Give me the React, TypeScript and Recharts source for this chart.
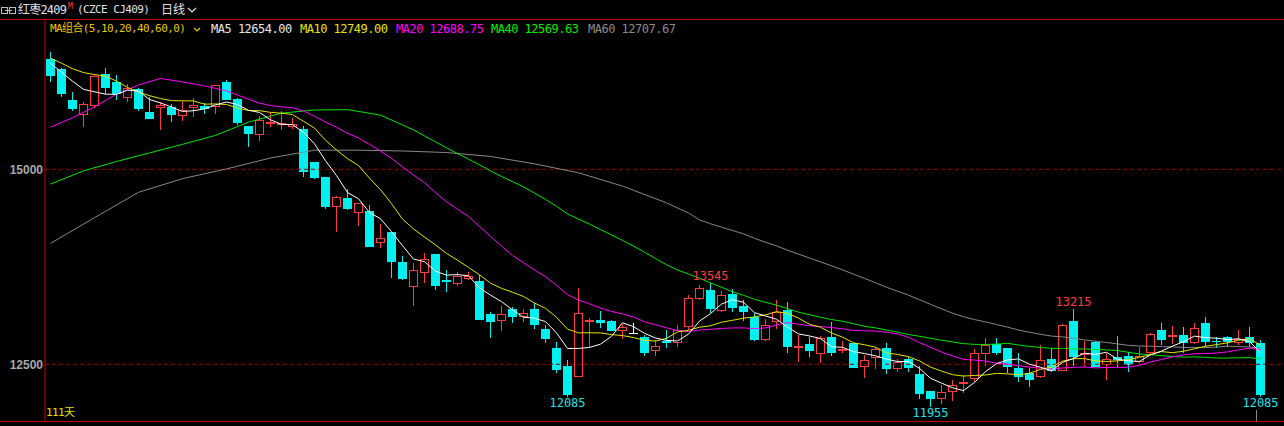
import React from "react";
import {
  ComposedChart, Bar, Line, XAxis, YAxis, ReferenceLine, ReferenceDot,
} from "recharts";

// Daily candles, 111 sessions (index 0 = oldest)
const opens = [
  16415, 16285, 15890, 15700, 15815, 16220, 16115, 15910, 16030, 15735,
  15780, 15800, 15685, 15790, 15810, 15795, 16120, 15900, 15555, 15445,
  15585, 15570, 15545, 15515, 15095, 14900, 14520, 14630, 14435, 14465,
  14050, 14195, 13810, 13495, 13665, 13915, 13580, 13525, 13590, 13570,
  13145, 13060, 13210, 13105, 13210, 12950, 12715, 12480, 12340, 13040,
  13070, 13050, 12925, 12905, 12845, 12675, 12795, 12770, 12980, 13335,
  13450, 13185, 13400, 13245, 13105, 12810, 13045, 13195, 12705, 12760,
  12630, 12845, 12670, 12770, 12460, 12575, 12710, 12445, 12565, 12375,
  12155, 12060, 12140, 12245, 12310, 12630, 12755, 12710, 12450, 12385,
  12335, 12570, 12420, 13055, 12620, 12790, 12490, 12590, 12605, 12535,
  12640, 12940, 12845, 12875, 12770, 13025, 12800, 12845, 12775, 12845,
  12775,
];
const highs = [
  16510, 16300, 15985, 15860, 16210, 16305, 16210, 16090, 16045, 15925,
  15860, 15835, 15880, 15910, 15845, 16080, 16150, 15910, 15560, 15685,
  15720, 15745, 15655, 15555, 15100, 14905, 14660, 14745, 14570, 14540,
  14300, 14200, 13890, 13800, 13925, 13920, 13710, 13680, 13680, 13650,
  13175, 13245, 13240, 13210, 13280, 13005, 12780, 12555, 13475, 13090,
  13185, 13070, 13015, 13025, 12875, 12810, 12940, 13005, 13390, 13515,
  13545, 13435, 13465, 13325, 13155, 13075, 13325, 13305, 12875, 12845,
  12860, 13045, 12800, 12775, 12620, 12725, 12775, 12570, 12595, 12480,
  12160, 12235, 12300, 12360, 12690, 12835, 12835, 12715, 12650, 12450,
  12745, 12705, 13015, 13215, 12805, 12795, 12640, 12860, 12660, 12725,
  12895, 13025, 12990, 12975, 13025, 13105, 12845, 12865, 12940, 12975,
  12810,
];
const lows = [
  16125, 15930, 15750, 15545, 15790, 15970, 15890, 15860, 15750, 15645,
  15510, 15610, 15625, 15675, 15715, 15715, 15885, 15565, 15290, 15365,
  15545, 15510, 15520, 14905, 14875, 14495, 14200, 14480, 14275, 14000,
  13995, 13610, 13580, 13250, 13545, 13455, 13430, 13505, 13580, 13065,
  12840, 12930, 13035, 13040, 12950, 12770, 12390, 12085, 12335, 12720,
  12970, 12925, 12820, 12885, 12610, 12610, 12705, 12720, 12940, 13330,
  13160, 13175, 13175, 13060, 12800, 12805, 12950, 12650, 12535, 12595,
  12520, 12610, 12640, 12450, 12320, 12435, 12375, 12400, 12405, 12060,
  11955, 11985, 12035, 12130, 12270, 12480, 12620, 12390, 12275, 12205,
  12330, 12405, 12415, 12480, 12470, 12465, 12300, 12470, 12405, 12515,
  12620, 12745, 12760, 12640, 12765, 12735, 12705, 12720, 12745, 12725,
  12085,
];
const closes = [
  16200, 15970, 15775, 15835, 16190, 16045, 15960, 16045, 15775, 15650,
  15825, 15700, 15755, 15825, 15770, 16075, 15890, 15595, 15455, 15630,
  15605, 15595, 15575, 14970, 14890, 14520, 14640, 14495, 14565, 14010,
  14120, 13815, 13595, 13705, 13845, 13510, 13560, 13630, 13630, 13070,
  13045, 13145, 13105, 13155, 13005, 12825, 12425, 12105, 13155, 13070,
  13035, 12930, 12975, 12905, 12640, 12735, 12775, 12940, 13345, 13475,
  13215, 13385, 13225, 13175, 12810, 13005, 13175, 12725, 12735, 12675,
  12840, 12650, 12690, 12455, 12555, 12690, 12445, 12530, 12455, 12120,
  12050, 12140, 12230, 12275, 12640, 12745, 12650, 12470, 12340, 12300,
  12555, 12420, 13005, 12595, 12640, 12470, 12565, 12555, 12490, 12605,
  12890, 12810, 12875, 12770, 12960, 12790, 12780, 12780, 12830, 12770,
  12100,
];

// Moving-average values before enough closes are on screen
const ma5Head = [16360, 16245, 16130, 16025];
const ma10Head = [16425, 16360, 16290, 16240, 16215, 16195, 16130, 16050, 15990];
const ma20HeadIdx = [0, 2, 4, 6, 8, 10, 12, 14, 16, 18];
const ma20HeadVal = [15540, 15660, 15800, 15965, 16080, 16165, 16120, 16070, 16005, 15900];
const ma40HeadIdx = [0, 3, 6, 9, 12, 15, 18, 21, 24, 27, 30, 33, 36, 38];
const ma40HeadVal = [14810, 14980, 15100, 15210, 15320, 15435, 15605, 15720, 15760, 15765, 15695, 15505, 15275, 15130];
const ma60HeadIdx = [0, 4, 8, 12, 16, 20, 24, 28, 32, 36, 40, 44, 48, 52, 56, 58];
const ma60HeadVal = [14050, 14380, 14705, 14880, 15005, 15145, 15245, 15245, 15235, 15215, 15165, 15070, 14955, 14785, 14570, 14440];

const yTicks = [12500, 15000];

const legendItems = [
  { text: "MA5 12654.00", color: "#e8e8e8", left: 211 },
  { text: "MA10 12749.00", color: "#e6e600", left: 300 },
  { text: "MA20 12688.75", color: "#ff00ff", left: 396 },
  { text: "MA40 12569.63", color: "#00ee00", left: 491 },
  { text: "MA60 12707.67", color: "#8a8a8a", left: 588 },
];

const RED = "#ff3c3c";
const CYAN = "#00f0f0";
const MONO = "'DejaVu Sans Mono', 'Noto Sans CJK SC', monospace";

function movingAvg(n: number, headIdx: number[], headVal: number[]) {
  return closes.map((_, i) => {
    if (i >= n - 1) {
      let s = 0;
      for (let k = i - n + 1; k <= i; k++) s += closes[k];
      return s / n;
    }
    const j = headIdx.indexOf(i);
    return j >= 0 ? headVal[j] : null;
  });
}

const idx = closes.map((_, i) => i);
const ma5 = movingAvg(5, [0, 1, 2, 3], ma5Head);
const ma10 = movingAvg(10, idx.slice(0, 9), ma10Head);
const ma20 = movingAvg(20, ma20HeadIdx, ma20HeadVal);
const ma40 = movingAvg(40, ma40HeadIdx, ma40HeadVal);
const ma60 = movingAvg(60, ma60HeadIdx, ma60HeadVal);

const data = idx.map((i) => ({
  i,
  open: opens[i], high: highs[i], low: lows[i], close: closes[i],
  range: [lows[i], highs[i]],
  ma5: ma5[i], ma10: ma10[i], ma20: ma20[i], ma40: ma40[i], ma60: ma60[i],
}));

const Candle = (props: any) => {
  const { x, y, width, height, payload } = props;
  const { open, close, high, low } = payload;
  const top = Math.min(y, y + height);
  const bot = Math.max(y, y + height);
  const k = (bot - top) / (high - low);
  const py = (p: number) => top + (high - p) * k;
  const cx = Math.floor(x + width / 2) + 0.5;
  const bx = Math.round(cx - 4.5);
  const hy = Math.round(py(high));
  const ly = Math.round(py(low));
  const bTop = Math.round(py(Math.max(open, close)));
  const bBot = Math.max(Math.round(py(Math.min(open, close))), bTop + 1);

  if (close === open) {
    return (
      <g>
        <line x1={cx} x2={cx} y1={hy} y2={ly} stroke="#ffffff" />
        <line x1={bx} x2={bx + 9} y1={bTop + 0.5} y2={bTop + 0.5} stroke="#ffffff" />
      </g>
    );
  }
  if (close < open) {
    return (
      <g>
        <line x1={cx} x2={cx} y1={hy} y2={ly} stroke={CYAN} />
        <rect x={bx} y={bTop} width={9} height={bBot - bTop} fill={CYAN} />
      </g>
    );
  }
  return (
    <g>
      <line x1={cx} x2={cx} y1={hy} y2={bTop} stroke={RED} />
      <line x1={cx} x2={cx} y1={bBot} y2={ly} stroke={RED} />
      <rect x={bx + 0.5} y={bTop + 0.5} width={8} height={Math.max(bBot - bTop - 1, 0)}
        fill="#000" stroke={RED} />
    </g>
  );
};

const labelFont = { fontSize: 12, fontFamily: MONO };
const txt = (left: number, top: number, size: number, color: string, extra: any = {}) => ({
  position: "absolute" as const, left, top, fontSize: size, lineHeight: `${size}px`,
  color, whiteSpace: "nowrap" as const, ...extra,
});

export default function App() {
  return (
    <div style={{
      position: "fixed", left: 0, top: 0, width: 1284, height: 426,
      background: "#000", overflow: "hidden", fontFamily: MONO,
    }}>
      <ComposedChart width={1284} height={426} data={data}
        margin={{ top: 19, right: 0, bottom: 5, left: 0 }}>
        <XAxis dataKey="i" type="number" domain={[-0.5, 112.136]} ticks={idx} hide />
        <YAxis
          type="number"
          domain={[11773, 16927]}
          allowDataOverflow
          ticks={yTicks}
          width={45}
          tickSize={0}
          tickMargin={2}
          tickLine={false}
          axisLine={{ stroke: "#c80000" }}
          tick={{ fill: "#a8a8a8", fontSize: 12, fontWeight: 700, fontFamily: "'Liberation Sans', Arial" }}
        />
        {yTicks.map((t) => (
          <ReferenceLine key={t} y={t} stroke="#9a0000" strokeDasharray="4 3" />
        ))}
        <Line dataKey="ma60" stroke="#888888" dot={false} strokeWidth={1} connectNulls isAnimationActive={false} />
        <Line dataKey="ma40" stroke="#00e600" dot={false} strokeWidth={1} connectNulls isAnimationActive={false} />
        <Line dataKey="ma20" stroke="#ff00ff" dot={false} strokeWidth={1} connectNulls isAnimationActive={false} />
        <Bar dataKey="range" barSize={9} shape={Candle} isAnimationActive={false} />
        <Line dataKey="ma10" stroke="#e6e600" dot={false} strokeWidth={1} connectNulls isAnimationActive={false} />
        <Line dataKey="ma5" stroke="#ffffff" dot={false} strokeWidth={1} connectNulls isAnimationActive={false} />
        <ReferenceDot x={60} y={highs[60]} r={0} fill="none" stroke="none"
          label={{ value: String(highs[60]), position: "top", offset: 3, fill: RED, ...labelFont }} />
        <ReferenceDot x={93} y={highs[93]} r={0} fill="none" stroke="none"
          label={{ value: String(highs[93]), position: "top", offset: 3, fill: RED, ...labelFont }} />
        <ReferenceDot x={47} y={lows[47]} r={0} fill="none" stroke="none"
          label={{ value: String(lows[47]), position: "bottom", offset: 2, fill: "#20e0e8", ...labelFont }} />
        <ReferenceDot x={80} y={lows[80]} r={0} fill="none" stroke="none"
          label={{ value: String(lows[80]), position: "bottom", offset: 2, fill: "#20e0e8", ...labelFont }} />
        <ReferenceDot x={110} y={lows[110]} r={0} fill="none" stroke="none"
          label={{ value: String(lows[110]), position: "bottom", offset: 2, fill: "#20e0e8", ...labelFont }} />
      </ComposedChart>

      {/* frame lines */}
      <div style={{ position: "absolute", left: 0, top: 19, width: 1284, height: 1, background: "#c80000" }} />
      <div style={{ position: "absolute", left: 0, top: 421, width: 1284, height: 1, background: "#c80000" }} />

      {/* title row */}
      <svg style={{ position: "absolute", left: 1, top: 7 }} width={15} height={8}>
        <rect x={0.5} y={0.5} width={6} height={6} fill="none" stroke="#bbb" />
        <rect x={8.5} y={0.5} width={6} height={6} fill="none" stroke="#bbb" />
        <line x1={4} x2={11} y1={3.5} y2={3.5} stroke="#bbb" />
      </svg>
      <div style={txt(18, 4, 12, "#e0e0e0", { letterSpacing: -0.8 })}>红枣2409</div>
      <div style={txt(68, 3, 8, RED)}>M</div>
      <div style={txt(77, 4, 11, "#e0e0e0", { letterSpacing: -0.6 })}>(CZCE CJ409)</div>
      <div style={txt(161, 4, 12, "#e0e0e0")}>日线</div>
      <svg style={{ position: "absolute", left: 187, top: 7 }} width={10} height={7}>
        <polyline points="1,1 5,5 9,1" fill="none" stroke="#e0e0e0" strokeWidth={1.2} />
      </svg>

      {/* MA legend row */}
      <div style={txt(50, 23, 11, "#e6c800", { letterSpacing: -0.6 })}>MA组合(5,10,20,40,60,0)</div>
      <svg style={{ position: "absolute", left: 193, top: 27 }} width={8} height={6}>
        <polyline points="1,1 4,4 7,1" fill="none" stroke="#e6c800" strokeWidth={1.2} />
      </svg>
      {legendItems.map((it) => (
        <div key={it.text} style={txt(it.left, 23, 12, it.color, { letterSpacing: -0.5 })}>
          {it.text}
        </div>
      ))}

      <div style={txt(46, 407, 11, "#e0e000", { letterSpacing: -0.6 })}>111天</div>
      <div style={{ position: "absolute", left: 1256, top: 410, width: 1, height: 11, background: "#888" }} />
    </div>
  );
}
